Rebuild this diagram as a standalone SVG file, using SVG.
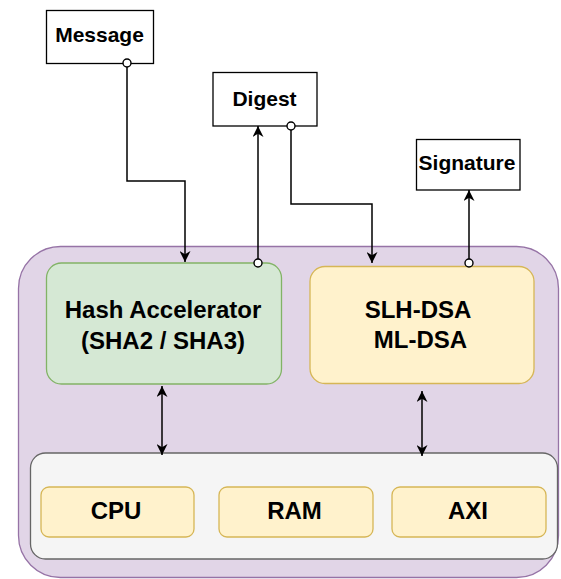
<svg xmlns="http://www.w3.org/2000/svg" width="561" height="579" viewBox="0 0 561 579">
<style>
  .t { font-family: "Liberation Sans", Arial, sans-serif; font-weight: bold; fill: #000; text-anchor: middle; }
  .t21 { font-size: 21px; }
  .t24 { font-size: 24px; }
  .io { fill: #fff; stroke: #000; stroke-width: 1.3; }
  .edge { fill: none; stroke: #000; stroke-width: 1.5; }
  .dot { fill: #fff; stroke: #000; stroke-width: 1.4; }
  .mod { fill: #fff2cc; stroke: #d6b656; stroke-width: 1.3; }
</style>
<defs>
  <marker id="arr" viewBox="0 0 10 10" refX="10" refY="5" markerWidth="11" markerHeight="11" markerUnits="userSpaceOnUse" orient="auto-start-reverse">
    <path d="M0,0 L10,5 L0,10 L3,5 Z" fill="#000"/>
  </marker>
</defs>
<rect width="561" height="579" fill="#fff"/>
<g id="soc">
  <rect x="18.5" y="246.5" width="540" height="331" rx="42" fill="#e1d5e7" stroke="#9673a6" stroke-width="1.3"/>
</g>
<g id="hash">
  <rect x="46.5" y="263" width="235" height="121" rx="15" fill="#d5e8d4" stroke="#82b366" stroke-width="1.3"/>
  <text class="t t24" x="163" y="318">Hash Accelerator</text>
  <text class="t t24" x="163" y="349">(SHA2 / SHA3)</text>
</g>
<g id="dsa">
  <rect x="310" y="266.5" width="224" height="117" rx="15" class="mod"/>
  <text class="t t24" x="418" y="318">SLH-DSA</text>
  <text class="t t24" x="420.5" y="348">ML-DSA</text>
</g>
<g id="bus">
  <rect x="30.5" y="453" width="527" height="106" rx="15" fill="#f5f5f5" stroke="#666" stroke-width="1.3"/>
</g>
<g id="cpu">
  <rect x="41" y="487" width="153" height="50" rx="8" class="mod"/>
  <text class="t t24" x="116" y="519">CPU</text>
</g>
<g id="ram">
  <rect x="219" y="487" width="154" height="50" rx="8" class="mod"/>
  <text class="t t24" x="294.5" y="519">RAM</text>
</g>
<g id="axi">
  <rect x="392" y="487" width="154" height="50" rx="8" class="mod"/>
  <text class="t t24" x="468" y="519">AXI</text>
</g>
<g id="message">
  <rect x="46.5" y="10.5" width="107" height="53" class="io"/>
  <text class="t t21" x="99.5" y="42">Message</text>
</g>
<g id="digest">
  <rect x="213" y="72.5" width="104" height="53.5" class="io"/>
  <text class="t t21" x="264.5" y="106">Digest</text>
</g>
<g id="signature">
  <rect x="416.5" y="139.5" width="103.5" height="50.5" class="io"/>
  <text class="t t21" x="467" y="170">Signature</text>
</g>
<g id="connectors">
  <path class="edge" d="M127,67 V181 H185 V262" marker-end="url(#arr)"/>
  <path class="edge" d="M258,259 V126" marker-end="url(#arr)"/>
  <path class="edge" d="M291,130 V204 H372 V263" marker-end="url(#arr)"/>
  <path class="edge" d="M469,259 V190" marker-end="url(#arr)"/>
  <path class="edge" d="M162,386 V455" marker-start="url(#arr)" marker-end="url(#arr)"/>
  <path class="edge" d="M422,391 V456" marker-start="url(#arr)" marker-end="url(#arr)"/>
  <circle class="dot" cx="127" cy="63" r="4"/>
  <circle class="dot" cx="258" cy="263" r="4"/>
  <circle class="dot" cx="291" cy="126" r="4"/>
  <circle class="dot" cx="469" cy="263" r="4"/>
</g>
</svg>
